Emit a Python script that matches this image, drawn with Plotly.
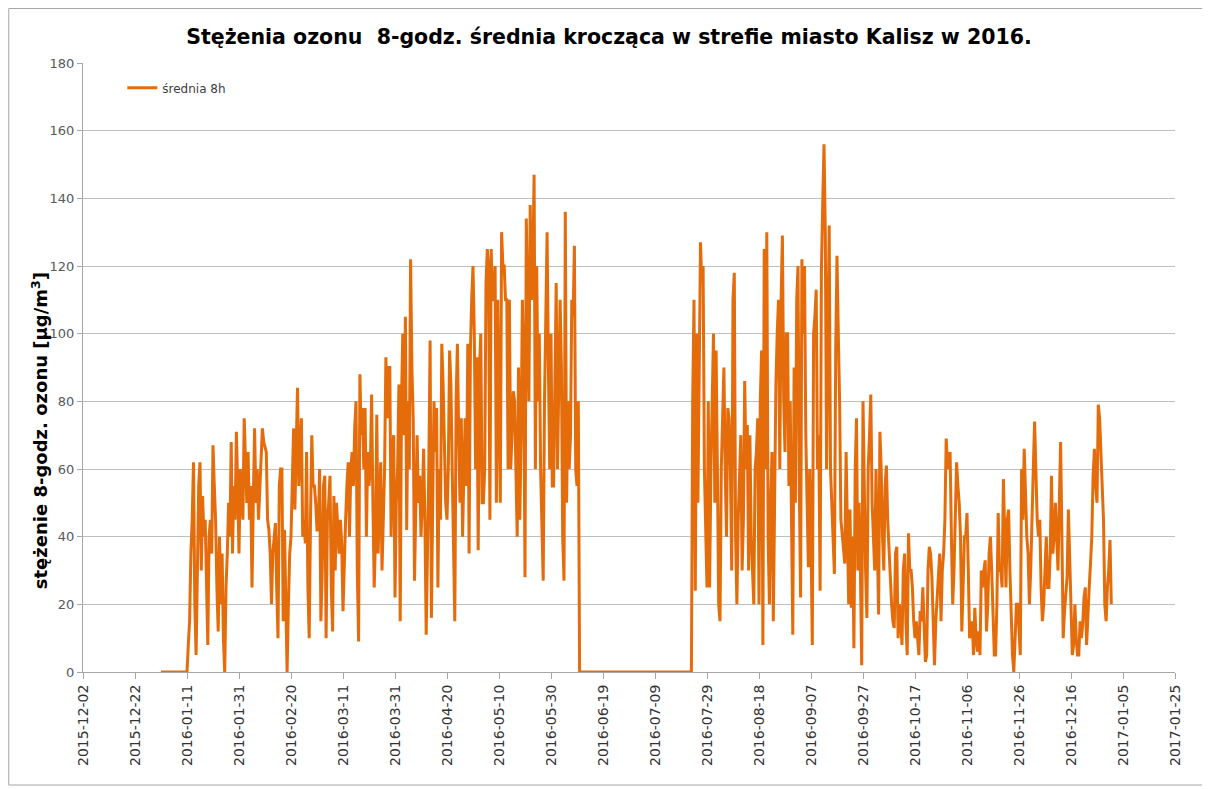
import pandas as pd
import plotly.graph_objects as go

# 8-hour rolling mean of ozone at ~12 h resolution (µg/m3)
jan = [
    0, 0, 0, 0, 0, 0, 0, 0, 0, 0, 0, 0, 0, 0, 0, 0, 0, 0, 0, 0,
    0, 8, 15, 35, 45, 62, 20, 5, 30, 55,
    62, 30, 52, 40, 45, 20, 8, 40, 45, 35,
    67, 55, 45, 25, 12, 40, 20, 35, 10, 0,
    25, 35, 50, 40, 68, 35, 55, 45, 71, 55,
    35, 60,
]
feb = [
    50, 45, 75, 60, 50, 65, 45, 55, 25, 50,
    72, 50, 60, 45, 55, 65, 72, 68, 66, 65,
    45, 42, 35, 20, 35, 40, 44, 25, 10, 55,
    60, 60, 15, 42, 20, 0, 20, 35, 40, 60,
    72, 48, 62, 84, 55, 66, 75, 40, 45, 38,
    65, 25, 10, 45, 70, 55, 55, 50,
]
mar = [
    42, 42, 60, 15, 30, 55, 58, 10, 45, 50,
    58, 25, 12, 52, 30, 50, 42, 35, 45, 38,
    18, 35, 45, 55, 62, 40, 60, 65, 55, 72,
    80, 30, 9, 88, 70, 78, 60, 78, 40, 65,
    55, 60, 82, 50, 25, 40, 76, 35, 50, 62,
    30, 45, 60, 93, 75, 90, 90, 40, 65, 70,
    22, 50,
]
apr = [
    60, 85, 15, 80, 100, 70, 105, 42, 80, 60,
    122, 90, 75, 27, 55, 70, 50, 58, 40, 50,
    66, 45, 11, 35, 60, 98, 16, 50, 80, 65,
    78, 25, 60, 45, 97, 85, 70, 50, 45, 60,
    95, 85, 60, 40, 15, 80, 97, 70, 50, 75,
    40, 60, 75, 55, 97, 35, 95, 110, 120, 100,
]
may = [
    60, 93, 36, 90, 100, 50, 50, 60, 115, 125,
    120, 45, 125, 110, 110, 120, 50, 110, 80, 50,
    130, 120, 120, 110, 110, 60, 110, 60, 70, 83,
    80, 60, 40, 90, 45, 70, 110, 90, 28, 134,
    100, 80, 138, 110, 120, 147, 60, 120, 80, 100,
    60, 40, 27, 80, 110, 130, 90, 60, 100, 55,
    55, 80,
]
jun = [
    115, 60, 80, 110, 90, 40, 27, 136, 50, 80,
    60, 70, 110, 105, 126, 60, 55, 80,
    0, 0, 0, 0, 0, 0, 0, 0, 0, 0, 0, 0, 0, 0, 0, 0, 0, 0, 0, 0, 0,
    0, 0, 0, 0, 0, 0, 0, 0, 0, 0, 0, 0, 0, 0, 0, 0, 0, 0, 0, 0, 0,
]
jul = [
    0, 0, 0, 0, 0, 0, 0, 0, 0, 0, 0, 0, 0, 0, 0, 0, 0, 0, 0, 0, 0, 0,
    0, 0, 0, 0, 0, 0, 0, 0, 0, 0, 0, 0, 0, 0, 0, 0, 0, 0, 0, 0, 0, 0,
    0, 80,
    110, 24, 100, 50, 80, 127, 115, 120, 60, 40,
    25, 80, 25, 60, 85, 100,
]
aug = [
    50, 95, 60, 20, 15, 60, 75, 90, 60, 40,
    78, 75, 60, 30, 110, 118, 40, 20, 45, 60,
    70, 30, 45, 86, 60, 73, 30, 70, 40, 30,
    20, 60, 65, 75, 20, 80, 95, 8, 125, 60,
    130, 40, 20, 50, 65, 15, 60, 85, 100, 110,
    60, 110, 129, 80, 65, 100, 100, 55, 80, 45,
    11, 90,
]
sep = [
    50, 110, 120, 55, 22, 122, 100, 120, 70, 50,
    31, 60, 40, 8, 100, 105, 113, 60, 70, 24,
    119, 138, 156, 130, 60, 100, 132, 60, 50, 40,
    29, 95, 123, 100, 80, 45, 40, 35, 32, 65,
    35, 20, 48, 19, 40, 7, 60, 75, 30, 50,
    30, 2, 80, 45, 30, 16, 60, 70, 82, 50,
]
oct_ = [
    40, 30, 60, 35, 17, 71, 60, 40, 30, 55,
    61, 45, 35, 30, 20, 15, 13, 35, 37, 10,
    20, 15, 8, 30, 35, 15, 5, 41, 30, 30,
    25, 15, 10, 15, 10, 5, 18, 15, 25, 15,
    3, 5, 30, 37, 35, 28, 10, 2, 15, 22,
    30, 35, 15, 30, 35, 45, 69, 62, 60, 65,
    40, 20,
]
nov = [
    30, 45, 62, 55, 50, 40, 12, 25, 40, 40,
    47, 30, 10, 12, 15, 5, 19, 10, 6, 12,
    5, 30, 25, 30, 33, 12, 20, 35, 40, 30,
    15, 5, 5, 20, 47, 30, 30, 25, 57, 40,
    25, 45, 48, 30, 15, 5, 0, 10, 20, 20,
    10, 5, 60, 45, 66, 50, 40, 35, 20, 30,
]
dec = [
    50, 60, 74, 55, 45, 40, 45, 25, 15, 20,
    30, 40, 25, 25, 35, 58, 35, 40, 50, 40,
    30, 50, 68, 40, 10, 18, 22, 28, 48, 35,
    15, 5, 8, 20, 10, 5, 5, 15, 10, 14,
    22, 25, 8, 18, 25, 32, 40, 58, 66, 55,
    50, 79, 75, 65, 55, 45, 20, 15, 25, 30,
    39, 20,
]

month_starts = ["2016-01-01", "2016-02-01", "2016-03-01", "2016-04-01",
                "2016-05-01", "2016-06-01", "2016-07-01", "2016-08-01",
                "2016-09-01", "2016-10-01", "2016-11-01", "2016-12-01"]
month_values = [jan, feb, mar, apr, may, jun, jul, aug, sep, oct_, nov, dec]

title_text = "Stężenia ozonu \u00a08-godz. średnia krocząca w strefie miasto Kalisz w 2016."
y_title = "stężenie 8-godz. ozonu [µg/m<sup>3</sup>]"
series_name = "średnia 8h"

xs, ys = [], []
for start, vals in zip(month_starts, month_values):
    idx = pd.date_range(start, periods=len(vals), freq="12h")
    xs.extend(idx)
    ys.extend(vals)

FONT = "DejaVu Sans"
W, H = 1202, 781          # page body adds an 8 px offset
ML, MR, MT, MB = 75, 35, 55, 117

fig = go.Figure()
fig.add_trace(go.Scatter(
    x=xs, y=ys, mode="lines", name=series_name,
    line=dict(color="#E46C0A", width=3),
))

fig.update_layout(
    width=W, height=H,
    margin=dict(l=ML, r=MR, t=MT, b=MB),
    paper_bgcolor="white", plot_bgcolor="white",
    font=dict(family=FONT, color="#404040"),
    title=dict(text="<b>" + title_text + "</b>", x=0.5, xanchor="center",
               y=1 - 29 / H, yanchor="middle",
               font=dict(family=FONT, size=20.5, color="#000000")),
    showlegend=True,
    legend=dict(x=0.036, y=0.983, xanchor="left", yanchor="top",
                bgcolor="rgba(0,0,0,0)", font=dict(family=FONT, size=12, color="#404040")),
    xaxis=dict(
        type="date", range=["2015-12-02", "2017-01-25"],
        tick0="2015-12-02", dtick=20 * 86400000, tickformat="%Y-%m-%d",
        tickangle=-90, ticks="outside", ticklen=6, tickcolor="#a6a6a6",
        showline=True, linecolor="#a6a6a6", linewidth=1, showgrid=False,
        zeroline=False, tickfont=dict(family=FONT, size=14, color="#333333"),
    ),
    yaxis=dict(
        range=[0, 180], dtick=20, tick0=0,
        showgrid=True, gridcolor="#bfbfbf", gridwidth=1,
        showline=True, linecolor="#a6a6a6", linewidth=1,
        ticks="outside", ticklen=5, tickcolor="#a6a6a6", zeroline=False,
        tickfont=dict(family=FONT, size=13, color="#595959"),
    ),
)

fig.add_annotation(
    text="<b>" + y_title + "</b>", textangle=-90,
    xref="paper", yref="paper", x=-0.0394, y=0.397,
    xanchor="center", yanchor="middle", showarrow=False,
    font=dict(family=FONT, size=18, color="#000000"),
)

fig.add_shape(type="rect", xref="paper", yref="paper",
              x0=-0.068, x1=1.029, y0=-0.1856, y1=1.0895,
              line=dict(color="#a6a6a6", width=1), fillcolor="rgba(0,0,0,0)")

fig.write_html("out.html")
